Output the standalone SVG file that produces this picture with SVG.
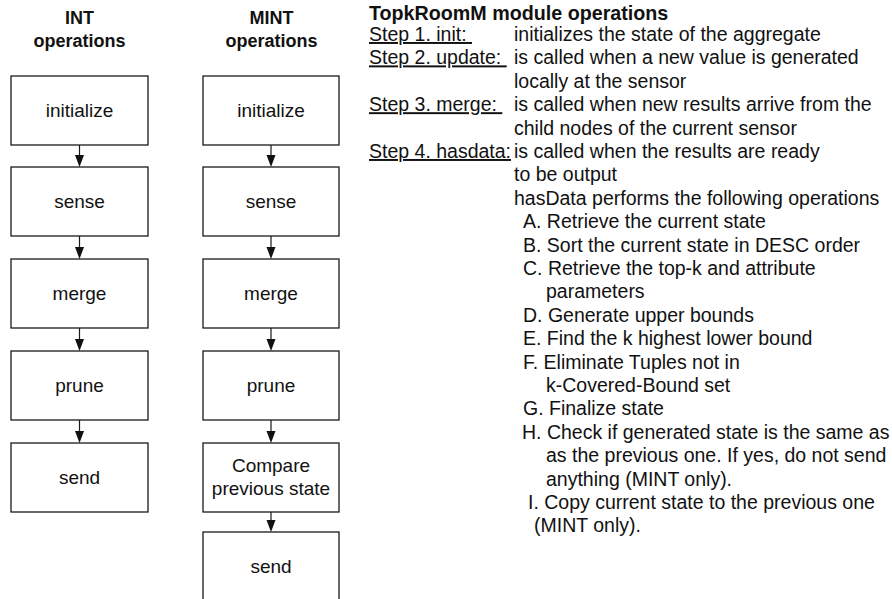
<svg xmlns="http://www.w3.org/2000/svg" width="892" height="599" viewBox="0 0 892 599">
  <style>
    .box { fill: #ffffff; stroke: #1a1a1a; stroke-width: 1.3; }
    .lbl { font-family: "Liberation Sans", Arial, sans-serif; font-size: 19px; fill: #111111; text-anchor: middle; }
    .hdr { font-family: "Liberation Sans", Arial, sans-serif; font-size: 18px; font-weight: bold; fill: #111111; text-anchor: middle; }
    .txt { font-family: "Liberation Sans", Arial, sans-serif; font-size: 19.5px; fill: #111111; }
    .ttl { font-weight: bold; font-size: 19.7px; }
    .ul { text-decoration: underline; }
    .edge { stroke: #1a1a1a; stroke-width: 1.2; fill: none; }
    .tip { fill: #111111; }
  </style>
  <defs>
    <!-- downward arrowhead, tip at origin -->
    <polygon id="ah" class="tip" points="0,0 -4.5,-12 4.5,-12"/>
  </defs>
  <rect width="892" height="599" fill="#ffffff"/>

  <!-- column headings -->
  <g id="hdr-int">
    <text class="hdr" x="79.5" y="23.5">INT</text>
    <text class="hdr" x="79.5" y="46.5">operations</text>
  </g>
  <g id="hdr-mint">
    <text class="hdr" x="271.5" y="23.5">MINT</text>
    <text class="hdr" x="271.5" y="46.5">operations</text>
  </g>

  <!-- INT pipeline -->
  <g id="int-initialize"><rect class="box" x="11" y="76" width="137" height="69"/><text class="lbl" x="79.5" y="116.5">initialize</text></g>
  <g id="int-sense"><rect class="box" x="11" y="167" width="137" height="69"/><text class="lbl" x="79.5" y="207.5">sense</text></g>
  <g id="int-merge"><rect class="box" x="11" y="259" width="137" height="69"/><text class="lbl" x="79.5" y="299.5">merge</text></g>
  <g id="int-prune"><rect class="box" x="11" y="351" width="137" height="69"/><text class="lbl" x="79.5" y="391.5">prune</text></g>
  <g id="int-send"><rect class="box" x="11" y="443" width="137" height="69"/><text class="lbl" x="79.5" y="483.5">send</text></g>

  <!-- MINT pipeline -->
  <g id="mint-initialize"><rect class="box" x="203" y="76" width="136" height="69"/><text class="lbl" x="271" y="116.5">initialize</text></g>
  <g id="mint-sense"><rect class="box" x="203" y="167" width="136" height="69"/><text class="lbl" x="271" y="207.5">sense</text></g>
  <g id="mint-merge"><rect class="box" x="203" y="259" width="136" height="69"/><text class="lbl" x="271" y="299.5">merge</text></g>
  <g id="mint-prune"><rect class="box" x="203" y="351" width="136" height="69"/><text class="lbl" x="271" y="391.5">prune</text></g>
  <g id="mint-compare"><rect class="box" x="203" y="443" width="136" height="69"/><text class="lbl" x="271" y="471.5">Compare</text><text class="lbl" x="271" y="494.5">previous state</text></g>
  <g id="mint-send"><rect class="box" x="203" y="532" width="136" height="70"/><text class="lbl" x="271" y="572.5">send</text></g>

  <!-- connectors -->
  <g id="connectors">
    <path class="edge" d="M79.5,145V157 M79.5,236V248 M79.5,328V340 M79.5,420V432"/>
    <use href="#ah" x="79.5" y="167"/>
    <use href="#ah" x="79.5" y="259"/>
    <use href="#ah" x="79.5" y="351"/>
    <use href="#ah" x="79.5" y="443"/>
    <path class="edge" d="M271,145V157 M271,236V248 M271,328V340 M271,420V432 M271,512V521"/>
    <use href="#ah" x="271" y="167"/>
    <use href="#ah" x="271" y="259"/>
    <use href="#ah" x="271" y="351"/>
    <use href="#ah" x="271" y="443"/>
    <use href="#ah" x="271" y="532"/>
  </g>

  <!-- module description -->
  <g id="notes" class="txt">
    <text class="ttl" x="369" y="19.5">TopkRoomM module operations</text>
    <text class="ul" x="369" y="41">Step 1. init:&#160;</text>
    <text x="514" y="41">initializes the state of the aggregate</text>
    <text class="ul" x="369" y="64.4">Step 2. update:&#160;</text>
    <text x="514" y="64.4">is called when a new value is generated</text>
    <text x="514" y="87.8">locally at the sensor</text>
    <text class="ul" x="369" y="111.2">Step 3. merge:&#160;</text>
    <text x="514" y="111.2">is called when new results arrive from the</text>
    <text x="514" y="134.6">child nodes of the current sensor</text>
    <text class="ul" x="369" y="158">Step 4. hasdata:</text>
    <text x="514" y="158">is called when the results are ready</text>
    <text x="514" y="181.4">to be output</text>
    <text x="514" y="204.8">hasData performs the following operations</text>
    <text x="523" y="228.2">A. Retrieve the current state</text>
    <text x="523" y="251.6">B. Sort the current state in DESC order</text>
    <text x="523" y="275">C. Retrieve the top-k and attribute</text>
    <text x="546" y="298.4">parameters</text>
    <text x="523" y="321.8">D. Generate upper bounds</text>
    <text x="523" y="345.2">E. Find the k highest lower bound</text>
    <text x="523" y="368.6">F. Eliminate Tuples not in</text>
    <text x="546" y="392">k-Covered-Bound set</text>
    <text x="523" y="415.4">G. Finalize state</text>
    <text x="522" y="438.8">H. Check if generated state is the same as</text>
    <text x="546" y="462.2">as the previous one. If yes, do not send</text>
    <text x="546" y="485.6">anything (MINT only).</text>
    <text x="528" y="509">I. Copy current state to the previous one</text>
    <text x="534" y="532.4">(MINT only).</text>
  </g>
</svg>
